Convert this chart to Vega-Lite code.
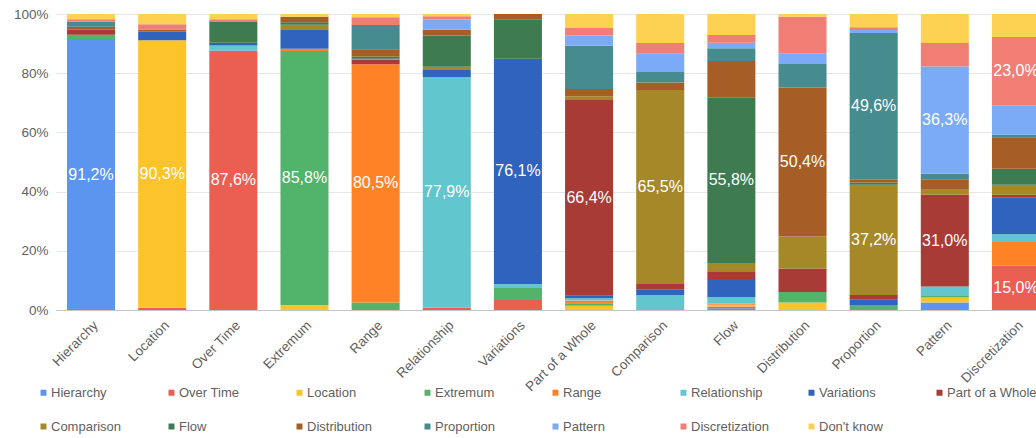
{
  "$schema": "https://vega.github.io/schema/vega-lite/v6.json",
  "width": 980,
  "height": 296,
  "autosize": "none",
  "padding": {"left": 56, "top": 14, "right": 0, "bottom": 128},
  "background": "white",
  "config": {
    "locale": {"number": {"decimal": ",", "thousands": ".", "grouping": [3], "currency": ["", " €"]}},
    "font": "Liberation Sans",
    "view": {"stroke": null}
  },
  "data": {"values": [
    {"task": "Hierarchy", "series": "Hierarchy", "value": 0.912},
    {"task": "Hierarchy", "series": "Extremum", "value": 0.018},
    {"task": "Hierarchy", "series": "Part of a Whole", "value": 0.017},
    {"task": "Hierarchy", "series": "Distribution", "value": 0.010},
    {"task": "Hierarchy", "series": "Proportion", "value": 0.017},
    {"task": "Hierarchy", "series": "Discretization", "value": 0.008},
    {"task": "Hierarchy", "series": "Don't know", "value": 0.018},

    {"task": "Location", "series": "Over Time", "value": 0.008},
    {"task": "Location", "series": "Location", "value": 0.903},
    {"task": "Location", "series": "Variations", "value": 0.029},
    {"task": "Location", "series": "Distribution", "value": 0.008},
    {"task": "Location", "series": "Discretization", "value": 0.017},
    {"task": "Location", "series": "Don't know", "value": 0.035},

    {"task": "Over Time", "series": "Over Time", "value": 0.876},
    {"task": "Over Time", "series": "Relationship", "value": 0.018},
    {"task": "Over Time", "series": "Variations", "value": 0.009},
    {"task": "Over Time", "series": "Flow", "value": 0.070},
    {"task": "Over Time", "series": "Discretization", "value": 0.009},
    {"task": "Over Time", "series": "Don't know", "value": 0.018},

    {"task": "Extremum", "series": "Location", "value": 0.017},
    {"task": "Extremum", "series": "Extremum", "value": 0.858},
    {"task": "Extremum", "series": "Range", "value": 0.008},
    {"task": "Extremum", "series": "Variations", "value": 0.063},
    {"task": "Extremum", "series": "Comparison", "value": 0.018},
    {"task": "Extremum", "series": "Flow", "value": 0.008},
    {"task": "Extremum", "series": "Distribution", "value": 0.019},
    {"task": "Extremum", "series": "Don't know", "value": 0.009},

    {"task": "Range", "series": "Extremum", "value": 0.025},
    {"task": "Range", "series": "Range", "value": 0.805},
    {"task": "Range", "series": "Part of a Whole", "value": 0.016},
    {"task": "Range", "series": "Comparison", "value": 0.003},
    {"task": "Range", "series": "Flow", "value": 0.007},
    {"task": "Range", "series": "Distribution", "value": 0.025},
    {"task": "Range", "series": "Proportion", "value": 0.082},
    {"task": "Range", "series": "Discretization", "value": 0.026},
    {"task": "Range", "series": "Don't know", "value": 0.011},

    {"task": "Relationship", "series": "Over Time", "value": 0.008},
    {"task": "Relationship", "series": "Relationship", "value": 0.779},
    {"task": "Relationship", "series": "Variations", "value": 0.026},
    {"task": "Relationship", "series": "Comparison", "value": 0.009},
    {"task": "Relationship", "series": "Flow", "value": 0.105},
    {"task": "Relationship", "series": "Distribution", "value": 0.020},
    {"task": "Relationship", "series": "Pattern", "value": 0.034},
    {"task": "Relationship", "series": "Discretization", "value": 0.011},
    {"task": "Relationship", "series": "Don't know", "value": 0.008},

    {"task": "Variations", "series": "Over Time", "value": 0.034},
    {"task": "Variations", "series": "Extremum", "value": 0.043},
    {"task": "Variations", "series": "Relationship", "value": 0.011},
    {"task": "Variations", "series": "Variations", "value": 0.761},
    {"task": "Variations", "series": "Flow", "value": 0.133},
    {"task": "Variations", "series": "Distribution", "value": 0.018},

    {"task": "Part of a Whole", "series": "Location", "value": 0.014},
    {"task": "Part of a Whole", "series": "Extremum", "value": 0.009},
    {"task": "Part of a Whole", "series": "Range", "value": 0.009},
    {"task": "Part of a Whole", "series": "Relationship", "value": 0.008},
    {"task": "Part of a Whole", "series": "Variations", "value": 0.008},
    {"task": "Part of a Whole", "series": "Part of a Whole", "value": 0.664},
    {"task": "Part of a Whole", "series": "Comparison", "value": 0.010},
    {"task": "Part of a Whole", "series": "Distribution", "value": 0.025},
    {"task": "Part of a Whole", "series": "Proportion", "value": 0.146},
    {"task": "Part of a Whole", "series": "Pattern", "value": 0.034},
    {"task": "Part of a Whole", "series": "Discretization", "value": 0.026},
    {"task": "Part of a Whole", "series": "Don't know", "value": 0.047},

    {"task": "Comparison", "series": "Relationship", "value": 0.051},
    {"task": "Comparison", "series": "Variations", "value": 0.019},
    {"task": "Comparison", "series": "Part of a Whole", "value": 0.018},
    {"task": "Comparison", "series": "Comparison", "value": 0.655},
    {"task": "Comparison", "series": "Distribution", "value": 0.026},
    {"task": "Comparison", "series": "Proportion", "value": 0.035},
    {"task": "Comparison", "series": "Pattern", "value": 0.062},
    {"task": "Comparison", "series": "Discretization", "value": 0.036},
    {"task": "Comparison", "series": "Don't know", "value": 0.098},

    {"task": "Flow", "series": "Hierarchy", "value": 0.006},
    {"task": "Flow", "series": "Over Time", "value": 0.006},
    {"task": "Flow", "series": "Location", "value": 0.006},
    {"task": "Flow", "series": "Range", "value": 0.004},
    {"task": "Flow", "series": "Relationship", "value": 0.021},
    {"task": "Flow", "series": "Variations", "value": 0.062},
    {"task": "Flow", "series": "Part of a Whole", "value": 0.026},
    {"task": "Flow", "series": "Comparison", "value": 0.028},
    {"task": "Flow", "series": "Flow", "value": 0.558},
    {"task": "Flow", "series": "Distribution", "value": 0.124},
    {"task": "Flow", "series": "Proportion", "value": 0.043},
    {"task": "Flow", "series": "Pattern", "value": 0.019},
    {"task": "Flow", "series": "Discretization", "value": 0.026},
    {"task": "Flow", "series": "Don't know", "value": 0.071},

    {"task": "Distribution", "series": "Location", "value": 0.025},
    {"task": "Distribution", "series": "Extremum", "value": 0.036},
    {"task": "Distribution", "series": "Part of a Whole", "value": 0.079},
    {"task": "Distribution", "series": "Comparison", "value": 0.108},
    {"task": "Distribution", "series": "Distribution", "value": 0.504},
    {"task": "Distribution", "series": "Proportion", "value": 0.079},
    {"task": "Distribution", "series": "Pattern", "value": 0.036},
    {"task": "Distribution", "series": "Discretization", "value": 0.124},
    {"task": "Distribution", "series": "Don't know", "value": 0.009},

    {"task": "Proportion", "series": "Extremum", "value": 0.017},
    {"task": "Proportion", "series": "Variations", "value": 0.019},
    {"task": "Proportion", "series": "Part of a Whole", "value": 0.015},
    {"task": "Proportion", "series": "Comparison", "value": 0.372},
    {"task": "Proportion", "series": "Flow", "value": 0.008},
    {"task": "Proportion", "series": "Distribution", "value": 0.009},
    {"task": "Proportion", "series": "Proportion", "value": 0.496},
    {"task": "Proportion", "series": "Pattern", "value": 0.010},
    {"task": "Proportion", "series": "Discretization", "value": 0.009},
    {"task": "Proportion", "series": "Don't know", "value": 0.045},

    {"task": "Pattern", "series": "Hierarchy", "value": 0.025},
    {"task": "Pattern", "series": "Location", "value": 0.017},
    {"task": "Pattern", "series": "Extremum", "value": 0.008},
    {"task": "Pattern", "series": "Relationship", "value": 0.029},
    {"task": "Pattern", "series": "Part of a Whole", "value": 0.310},
    {"task": "Pattern", "series": "Comparison", "value": 0.017},
    {"task": "Pattern", "series": "Distribution", "value": 0.036},
    {"task": "Pattern", "series": "Proportion", "value": 0.018},
    {"task": "Pattern", "series": "Pattern", "value": 0.363},
    {"task": "Pattern", "series": "Discretization", "value": 0.079},
    {"task": "Pattern", "series": "Don't know", "value": 0.098},

    {"task": "Discretization", "series": "Over Time", "value": 0.150},
    {"task": "Discretization", "series": "Range", "value": 0.080},
    {"task": "Discretization", "series": "Relationship", "value": 0.026},
    {"task": "Discretization", "series": "Variations", "value": 0.125},
    {"task": "Discretization", "series": "Part of a Whole", "value": 0.008},
    {"task": "Discretization", "series": "Comparison", "value": 0.034},
    {"task": "Discretization", "series": "Flow", "value": 0.054},
    {"task": "Discretization", "series": "Distribution", "value": 0.107},
    {"task": "Discretization", "series": "Proportion", "value": 0.008},
    {"task": "Discretization", "series": "Pattern", "value": 0.100},
    {"task": "Discretization", "series": "Discretization", "value": 0.230},
    {"task": "Discretization", "series": "Don't know", "value": 0.078}
  ]},
  "transform": [
    {"calculate": "indexof(['Hierarchy','Over Time','Location','Extremum','Range','Relationship','Variations','Part of a Whole','Comparison','Flow','Distribution','Proportion','Pattern','Discretization','Don\\'t know'], datum.series)", "as": "seriesOrder"}
  ],
  "encoding": {
    "x": {
      "field": "task", "type": "nominal",
      "sort": ["Hierarchy","Location","Over Time","Extremum","Range","Relationship","Variations","Part of a Whole","Comparison","Flow","Distribution","Proportion","Pattern","Discretization"],
      "scale": {"range": [0, 995], "paddingInner": 0.325, "paddingOuter": 0.155},
      "axis": {"title": null, "labelAngle": -45, "labelFontSize": 13.5, "labelColor": "#5f5f5f", "ticks": false, "domainColor": "#c6c6c6", "labelPadding": 8, "grid": false}
    },
    "order": {"field": "seriesOrder", "type": "quantitative"}
  },
  "layer": [
    {
      "mark": {"type": "bar"},
      "encoding": {
        "y": {"field": "value", "type": "quantitative", "stack": "normalize",
          "scale": {"domain": [0, 1]},
          "axis": {"title": null, "format": ".0%", "values": [0, 0.1, 0.2, 0.3, 0.4, 0.5, 0.6, 0.7, 0.8, 0.9, 1], "labelFontSize": 13.5, "labelColor": "#5f5f5f", "domain": false, "ticks": false, "gridColor": "#e6e6e6", "labelPadding": 8}},
        "color": {
          "field": "series", "type": "nominal",
          "scale": {
            "domain": ["Hierarchy","Over Time","Location","Extremum","Range","Relationship","Variations","Part of a Whole","Comparison","Flow","Distribution","Proportion","Pattern","Discretization","Don't know"],
            "range": ["#5b95f0","#eb5e52","#fbc42a","#52b36a","#ff8326","#62c6ce","#2f63bd","#a83b36","#a58828","#3e7b50","#a65d26","#468b8d","#7baaf7","#f07e75","#fdd152"]
          },
          "legend": {"orient": "none", "legendX": -19, "legendY": 372, "direction": "horizontal", "columns": 8, "title": null, "symbolType": "square", "symbolSize": 36, "symbolStrokeWidth": 0, "labelFontSize": 13, "labelColor": "#5f5f5f", "gridAlign": "all", "columnPadding": 24, "rowPadding": 20, "labelLimit": 200, "labelOffset": 1}
        }
      }
    },
    {
      "mark": {"type": "text", "color": "white", "fontSize": 16, "baseline": "middle"},
      "encoding": {
        "y": {"field": "value", "type": "quantitative", "stack": "normalize", "bandPosition": 0.5},
        "detail": {"field": "series"},
        "text": {"condition": {"test": "datum.value >= 0.15", "field": "value", "type": "quantitative", "format": ".1%"}, "value": ""}
      }
    }
  ]
}
